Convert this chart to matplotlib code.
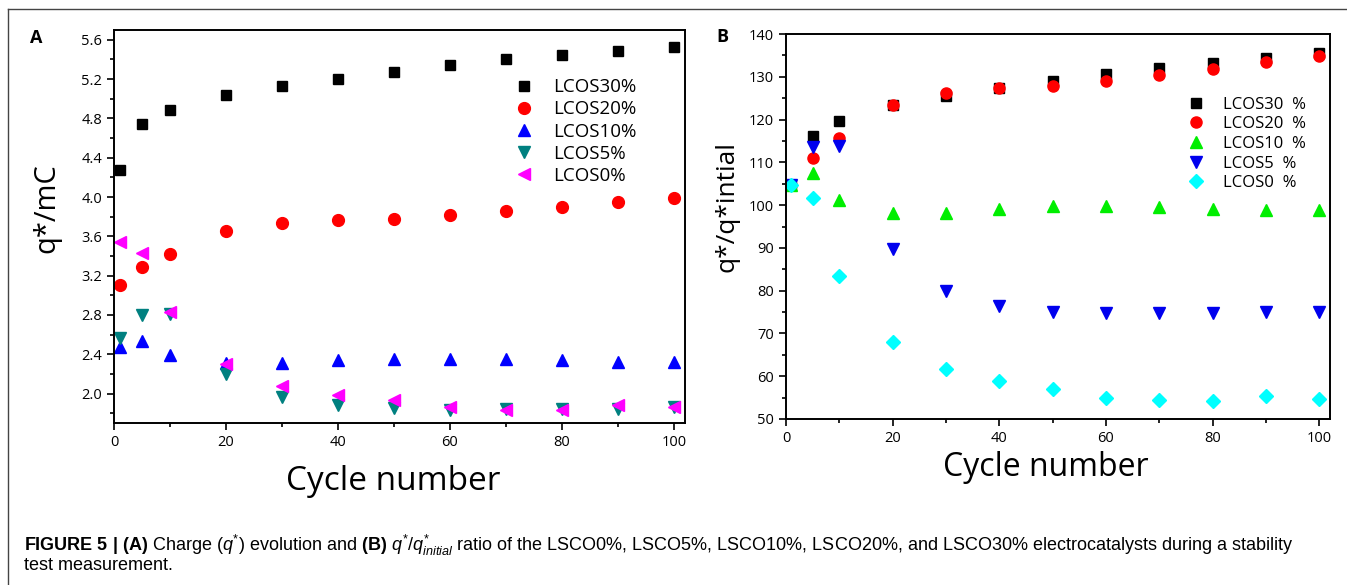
"""Figure 5: q* evolution (A) and q*/q*initial ratio (B) vs cycle number."""

import matplotlib
matplotlib.use("Agg")
import matplotlib.pyplot as plt
from matplotlib import font_manager
from matplotlib.lines import Line2D
from matplotlib.ticker import MultipleLocator, FormatStrFormatter

# ---- data -------------------------------------------------------------
cycles = [1, 5, 10, 20, 30, 40, 50, 60, 70, 80, 90, 100]

# panel A : q*/mC
a_lcos30 = [4.28, 4.74, 4.89, 5.04, 5.13, 5.20, 5.27, 5.34, 5.40, 5.45, 5.49, 5.53]
a_lcos20 = [3.10, 3.29, 3.42, 3.65, 3.74, 3.77, 3.78, 3.82, 3.86, 3.90, 3.95, 3.99]
a_lcos10 = [2.47, 2.53, 2.39, 2.31, 2.31, 2.34, 2.35, 2.35, 2.35, 2.34, 2.32, 2.32]
a_lcos5 = [2.57, 2.80, 2.81, 2.20, 1.96, 1.88, 1.85, 1.83, 1.84, 1.84, 1.84, 1.86]
a_lcos0 = [3.54, 3.43, 2.83, 2.30, 2.08, 1.98, 1.93, 1.86, 1.83, 1.83, 1.88, 1.86]
a_labels = ["LCOS30%", "LCOS20%", "LCOS10%", "LCOS5%", "LCOS0%"]

# panel B : q*/q*initial (%)
b_lcos30 = [104.8, 116.1, 119.7, 123.4, 125.5, 127.3, 129.1, 130.7, 132.1, 133.2, 134.5, 135.5]
b_lcos20 = [104.8, 111.1, 115.6, 123.4, 126.3, 127.3, 127.9, 129.1, 130.4, 131.8, 133.4, 134.8]
b_lcos10 = [104.8, 107.6, 101.3, 98.2, 98.1, 99.2, 99.8, 99.8, 99.6, 99.2, 98.8, 98.8]
b_lcos5 = [104.8, 113.6, 113.8, 89.7, 80.0, 76.5, 75.1, 74.7, 74.7, 74.7, 75.0, 75.1]
b_lcos0 = [104.8, 101.7, 83.5, 68.0, 61.7, 58.8, 57.0, 54.9, 54.5, 54.3, 55.4, 54.7]
b_labels = ["LCOS30  %", "LCOS20  %", "LCOS10  %", "LCOS5  %", "LCOS0  %"]

caption_1 = (r"$\mathbf{FIGURE\ 5\ |\ (A)}$ Charge ($q^{*}$) evolution and "
             r"$\mathbf{(B)}$ $q^{*}/q^{*}_{initial}$ ratio of the LSCO0%, LSCO5%, "
             "LSCO10%, LSCO20%, and LSCO30% electrocatalysts during a stability")
caption_2 = "test measurement."

# ---- style ------------------------------------------------------------
plt.rcParams["font.family"] = ["Open Sans", "DejaVu Sans"]
names = {f.name for f in font_manager.fontManager.ttflist}
cap_font = "Liberation Sans Narrow" if "Liberation Sans Narrow" in names else "Liberation Sans"
cap_size = 11.5 if cap_font == "Liberation Sans Narrow" else 13
plt.rcParams["mathtext.fontset"] = "custom"
plt.rcParams["mathtext.rm"] = cap_font
plt.rcParams["mathtext.it"] = cap_font + ":italic"
plt.rcParams["mathtext.bf"] = cap_font + ":bold"

W, H = 1347, 585
fig = plt.figure(figsize=(W / 100, H / 100), dpi=100)


def px_axes(left, top, right, bottom):
    return fig.add_axes([left / W, 1 - bottom / H, (right - left) / W, (bottom - top) / H])


def style_axes(ax):
    for s in ax.spines.values():
        s.set_linewidth(1.4)
    ax.tick_params(which="both", direction="out", top=False, right=False,
                   labelsize=10.5, width=1.2)
    ax.tick_params(which="major", length=5)
    ax.tick_params(which="minor", length=3)
    ax.xaxis.set_major_locator(MultipleLocator(20))
    ax.xaxis.set_minor_locator(MultipleLocator(10))


# panel A
ax_a = px_axes(114, 30, 685, 423)
series_a = [a_lcos30, a_lcos20, a_lcos10, a_lcos5, a_lcos0]
style_a = [("s", "black", 7.5), ("o", "red", 8.5), ("^", "blue", 8.5),
           ("v", "#008080", 8.5), ("<", "magenta", 8.5)]
for vals, (m, c, ms), lab in zip(series_a, style_a, a_labels):
    ax_a.plot(cycles, vals, linestyle="none", marker=m, color=c, ms=ms, label=lab)
ax_a.set_xlim(0, 102)
ax_a.set_ylim(1.7, 5.7)
ax_a.yaxis.set_major_locator(MultipleLocator(0.4))
ax_a.yaxis.set_minor_locator(MultipleLocator(0.2))
ax_a.yaxis.set_major_formatter(FormatStrFormatter("%.1f"))
style_axes(ax_a)
ax_a.legend(loc="upper left", bbox_to_anchor=(0.685, 0.877), frameon=False,
            fontsize=13.5, handlelength=2.0, handletextpad=0.55, labelspacing=0.22,
            borderpad=0, borderaxespad=0)

# panel B
ax_b = px_axes(786, 34, 1330, 419)
series_b = [b_lcos30, b_lcos20, b_lcos10, b_lcos5, b_lcos0]
style_b = [("s", "black", 7), ("o", "red", 8), ("^", "#00ee00", 8.5),
           ("v", "#0000ee", 8.5), ("D", "cyan", 7)]
for vals, (m, c, ms), lab in zip(series_b, style_b, b_labels):
    ax_b.plot(cycles, vals, linestyle="none", marker=m, color=c, ms=ms, label=lab)
ax_b.set_xlim(0, 102)
ax_b.set_ylim(50, 140)
ax_b.yaxis.set_major_locator(MultipleLocator(10))
ax_b.yaxis.set_minor_locator(MultipleLocator(5))
style_axes(ax_b)
ax_b.legend(loc="upper left", bbox_to_anchor=(0.723, 0.8375), frameon=False,
            fontsize=12, handlelength=2.0, handletextpad=0.62, labelspacing=0.22,
            borderpad=0, borderaxespad=0)


# labels in pixel positions
def ftext(x, y, s, **kw):
    fig.text(x / W, 1 - y / H, s, **kw)


ftext(36, 38, "A", fontsize=13, fontweight="bold", ha="center", va="center")
ftext(722, 37, "B", fontsize=13, fontweight="bold", ha="center", va="center")
ftext(47, 208, "q*/mC", fontsize=21, rotation=90, ha="center", va="center")
ftext(727, 206, "q*/q*intial", fontsize=19, rotation=90, ha="center", va="center")
ftext(393, 482, "Cycle number", fontsize=24, ha="center", va="center")
ftext(1046, 467, "Cycle number", fontsize=23, ha="center", va="center")

ftext(24, 551.5, caption_1, fontsize=cap_size, family=cap_font, ha="left", va="baseline")
ftext(24, 570, caption_2, fontsize=cap_size, family=cap_font, ha="left", va="baseline")

# thin frame around the figure panel
fig.add_artist(Line2D([8 / W, 1.0], [1 - 9 / H, 1 - 9 / H], color="#444444", lw=1.0))
fig.add_artist(Line2D([8 / W, 8 / W], [0.0, 1 - 9 / H], color="#444444", lw=1.0))

fig.savefig("out.png", dpi=100)
